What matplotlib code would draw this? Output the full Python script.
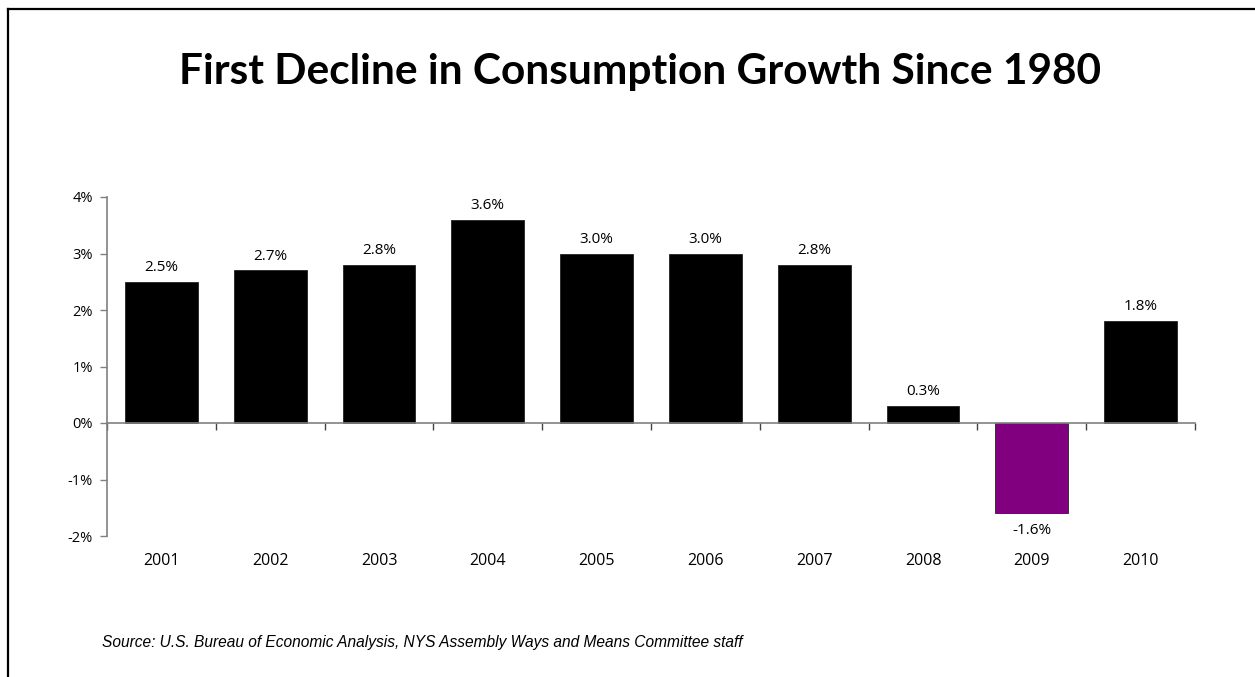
import matplotlib
matplotlib.use("Agg")
import matplotlib.pyplot as plt
from matplotlib.lines import Line2D
from matplotlib.transforms import blended_transform_factory, offset_copy

years = ["2001", "2002", "2003", "2004", "2005", "2006", "2007", "2008", "2009", "2010"]
growth = [2.5, 2.7, 2.8, 3.6, 3.0, 3.0, 2.8, 0.3, -1.6, 1.8]
value_labels = ["2.5%", "2.7%", "2.8%", "3.6%", "3.0%", "3.0%", "2.8%", "0.3%", "-1.6%", "1.8%"]
y_ticks = [-2, -1, 0, 1, 2, 3, 4]
y_tick_labels = ["-2%", "-1%", "0%", "1%", "2%", "3%", "4%"]

title = "First Decline in Consumption Growth Since 1980"
source = "Source: U.S. Bureau of Economic Analysis, NYS Assembly Ways and Means Committee staff"

label_font = "Open Sans"
title_font = "Lato"
grey = "#808080"

fig = plt.figure(figsize=(12.55, 6.77), dpi=100)
fig.patch.set_facecolor("white")

# frame lines along the top and left edges of the page
fig.add_artist(Line2D([8 / 1255, 8 / 1255], [0, 1 - 9 / 677], color="black", lw=1.6,
                      transform=fig.transFigure))
fig.add_artist(Line2D([8 / 1255, 1], [1 - 9 / 677, 1 - 9 / 677], color="black", lw=1.6,
                      transform=fig.transFigure))

ax = fig.add_axes([107 / 1255, 1 - 536 / 677, (1195 - 107) / 1255, (536 - 197) / 677])

x = list(range(len(years)))
colors = ["#800080" if v < 0 else "black" for v in growth]
bars = ax.bar(x, growth, width=0.67, color=colors, edgecolor="#222222", linewidth=0.6, zorder=3)

ax.set_xlim(-0.5, len(years) - 0.5)
ax.set_ylim(-2, 4)

# y axis
ax.set_yticks(y_ticks)
ax.set_yticklabels(y_tick_labels, fontfamily=label_font, fontsize=10.5)
ax.tick_params(axis="y", direction="out", length=5, width=1, color=grey, pad=5)
ax.spines["left"].set_color(grey)
ax.spines["left"].set_linewidth(1.2)
ax.spines["top"].set_visible(False)
ax.spines["right"].set_visible(False)

# x axis drawn along zero with ticks at category boundaries
ax.spines["bottom"].set_position(("data", 0))
ax.spines["bottom"].set_color(grey)
ax.spines["bottom"].set_linewidth(1.2)
ax.spines["bottom"].set_zorder(4)
boundaries = [i - 0.5 for i in range(len(years) + 1)]
ax.set_xticks(boundaries)
ax.set_xticklabels([])
ax.tick_params(axis="x", direction="out", length=5, width=1, color="#444444")

# category labels below the plot area
trans = blended_transform_factory(ax.transData, ax.transAxes)
for xi, yr in zip(x, years):
    ax.text(xi, 0, yr, transform=offset_copy(trans, fig=fig, x=0, y=-25, units="dots"),
            ha="center", va="center", fontfamily=label_font, fontsize=11.5)

# value labels
for rect, v, lab in zip(bars, growth, value_labels):
    cx = rect.get_x() + rect.get_width() / 2
    if v >= 0:
        ax.annotate(lab, (cx, v), xytext=(0, 5), textcoords="offset points",
                    ha="center", va="bottom", fontfamily=label_font, fontsize=11)
    else:
        ax.annotate(lab, (cx, v), xytext=(0, -7), textcoords="offset points",
                    ha="center", va="top", fontfamily=label_font, fontsize=11)

fig.text(640 / 1255, 1 - 72 / 677, title, ha="center", va="center", fontfamily=title_font,
         fontweight="bold", fontsize=30.5)
fig.text(102 / 1255, 1 - 642 / 677, source, ha="left", va="center",
         fontfamily="Liberation Sans", style="italic", fontsize=11.2)

fig.savefig("out.png", dpi=100, facecolor="white")
